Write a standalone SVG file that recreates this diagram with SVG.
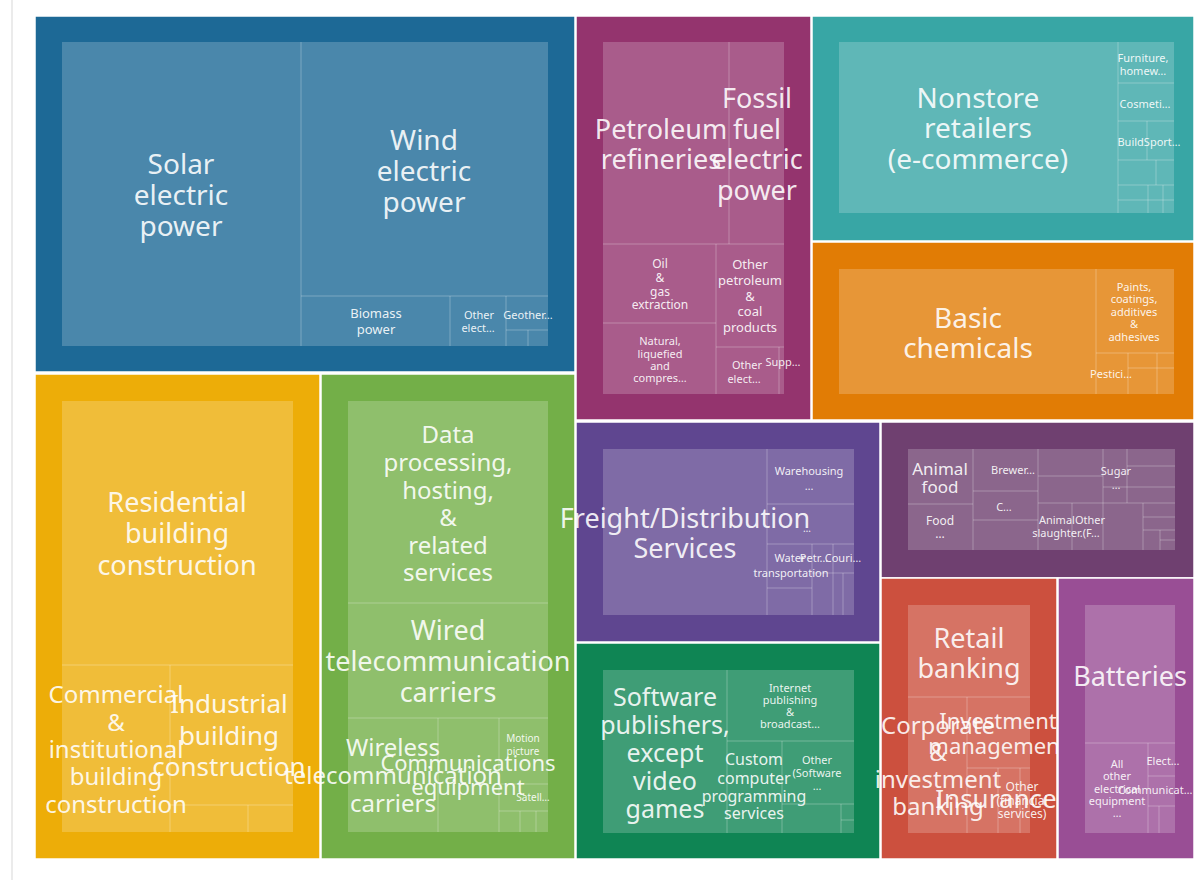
<svg xmlns="http://www.w3.org/2000/svg" width="1194" height="880" viewBox="0 0 1194 880">
<style>
.blk{stroke:#ffffff;stroke-width:1.5}
.in{fill:#ffffff;fill-opacity:0.2}
.ln{stroke:#ffffff;stroke-opacity:0.28;stroke-width:1;fill:none}
text{font-family:"Noto Sans","Open Sans",sans-serif;fill:#ffffff;fill-opacity:0.9;text-anchor:middle;dominant-baseline:central}
.s28{font-size:28px}.s27{font-size:27px}.s26{font-size:26px}.s25{font-size:25px}.s24{font-size:24px}.s22{font-size:22px}
.s17{font-size:17px}.s16{font-size:16px}.s13{font-size:13px}.s12{font-size:12px}.s11{font-size:11px}.s10{font-size:10px}
</style>
<rect x="0" y="0" width="1194" height="880" fill="#ffffff"/>
<line x1="12" y1="0" x2="12" y2="880" stroke="#ebebeb" stroke-width="2"/>
<g id="connectors"/>

<g id="energy">
<rect class="blk" x="35" y="16" width="540" height="356" fill="#1D6996"/>
<rect class="in" x="62" y="42" width="486" height="304"/>
<path class="ln" d="M301 42V346M301 296H548M450 296V346M506 296V346M506 330H548M528 330V346"/>
<text class="s28"><tspan x="181" y="163">Solar</tspan><tspan x="181" y="194">electric</tspan><tspan x="181" y="225">power</tspan></text>
<text class="s28"><tspan x="424" y="139">Wind</tspan><tspan x="424" y="170">electric</tspan><tspan x="424" y="201">power</tspan></text>
<text class="s13"><tspan x="376" y="313">Biomass</tspan><tspan x="376" y="329">power</tspan></text>
<text class="s11"><tspan x="479" y="314">Other</tspan><tspan x="478" y="327">elect…</tspan></text>
<text class="s11" x="528" y="314">Geother…</text>
</g>

<g id="construction">
<rect class="blk" x="35" y="374" width="285" height="485" fill="#EDAD08"/>
<rect class="in" x="62" y="401" width="231" height="431"/>
<path class="ln" d="M62 665H293M170 665V832M170 805H293M248 805V832"/>
<text class="s27"><tspan x="177" y="501">Residential</tspan><tspan x="177" y="532">building</tspan><tspan x="177" y="564">construction</tspan></text>
<text class="s24"><tspan x="116" y="693">Commercial</tspan><tspan x="116" y="721">&amp;</tspan><tspan x="116" y="748">institutional</tspan><tspan x="116" y="775">building</tspan><tspan x="116" y="803">construction</tspan></text>
<text class="s26"><tspan x="229" y="703">Industrial</tspan><tspan x="229" y="735">building</tspan><tspan x="229" y="766">construction</tspan></text>
</g>

<g id="telecom">
<rect class="blk" x="321" y="374" width="254" height="485" fill="#73AF48"/>
<rect class="in" x="348" y="401" width="200" height="431"/>
<path class="ln" d="M348 603H548M348 718H548M438 718V832M499 718V832M499 784H548M499 811H548M520 811V832M536 811V832"/>
<text class="s24"><tspan x="448" y="433">Data</tspan><tspan x="448" y="461">processing,</tspan><tspan x="448" y="489">hosting,</tspan><tspan x="448" y="516">&amp;</tspan><tspan x="448" y="544">related</tspan><tspan x="448" y="571">services</tspan></text>
<text class="s27"><tspan x="448" y="629">Wired</tspan><tspan x="448" y="660">telecommunication</tspan><tspan x="448" y="691">carriers</tspan></text>
<text class="s24"><tspan x="393" y="746">Wireless</tspan><tspan x="393" y="774">telecommunication</tspan><tspan x="393" y="802">carriers</tspan></text>
<text class="s22"><tspan x="468" y="762">Communications</tspan><tspan x="468" y="786">equipment</tspan></text>
<text class="s10"><tspan x="523" y="738">Motion</tspan><tspan x="523" y="751">picture</tspan></text>
<text class="s10" x="533" y="797">Satell…</text>
</g>

<g id="fossil">
<rect class="blk" x="576" y="16" width="235" height="404" fill="#94346E"/>
<rect class="in" x="603" y="42" width="181" height="352"/>
<path class="ln" d="M729 42V244M603 244H784M716 244V394M603 323H716M716 347H784M779 347V394"/>
<text class="s27"><tspan x="661" y="128">Petroleum</tspan><tspan x="661" y="158">refineries</tspan></text>
<text class="s27"><tspan x="757" y="97">Fossil</tspan><tspan x="757" y="128">fuel</tspan><tspan x="757" y="158">electric</tspan><tspan x="757" y="189">power</tspan></text>
<text class="s12"><tspan x="660" y="263">Oil</tspan><tspan x="660" y="277">&amp;</tspan><tspan x="660" y="291">gas</tspan><tspan x="660" y="304">extraction</tspan></text>
<text class="s13"><tspan x="750" y="264">Other</tspan><tspan x="750" y="280">petroleum</tspan><tspan x="750" y="296">&amp;</tspan><tspan x="750" y="311">coal</tspan><tspan x="750" y="327">products</tspan></text>
<text class="s11"><tspan x="660" y="340">Natural,</tspan><tspan x="660" y="353">liquefied</tspan><tspan x="660" y="365">and</tspan><tspan x="660" y="377">compres…</tspan></text>
<text class="s11"><tspan x="747" y="364">Other</tspan><tspan x="744" y="378">elect…</tspan></text>
<text class="s11" x="783" y="361">Supp…</text>
</g>

<g id="nonstore">
<rect class="blk" x="812" y="16" width="382" height="225" fill="#38A6A5"/>
<rect class="in" x="839" y="42" width="335" height="171"/>
<path class="ln" d="M1118 42V213M1118 83H1174M1118 121H1174M1118 160H1174M1147 121V160M1118 185H1174M1156 160V185M1118 200H1174M1148 185V213M1163 185V213"/>
<text class="s28"><tspan x="978" y="97">Nonstore</tspan><tspan x="978" y="127">retailers</tspan><tspan x="978" y="158">(e-commerce)</tspan></text>
<text class="s11"><tspan x="1143" y="57">Furniture,</tspan><tspan x="1143" y="70">homew…</tspan></text>
<text class="s11" x="1145" y="103">Cosmeti…</text>
<text class="s11" x="1149" y="141">BuildSport…</text>
</g>

<g id="chemicals">
<rect class="blk" x="812" y="242" width="382" height="178" fill="#E17C05"/>
<rect class="in" x="839" y="269" width="335" height="125"/>
<path class="ln" d="M1096 269V394M1096 353H1174M1128 353V394M1157 353V394M1128 368H1174"/>
<text class="s28"><tspan x="968" y="317">Basic</tspan><tspan x="968" y="347">chemicals</tspan></text>
<text class="s11"><tspan x="1134" y="286">Paints,</tspan><tspan x="1134" y="298">coatings,</tspan><tspan x="1134" y="311">additives</tspan><tspan x="1134" y="323">&amp;</tspan><tspan x="1134" y="336">adhesives</tspan></text>
<text class="s11" x="1111" y="373">Pestici…</text>
</g>

<g id="freight">
<rect class="blk" x="576" y="422" width="304" height="220" fill="#5F4690"/>
<rect class="in" x="603" y="449" width="251" height="166"/>
<path class="ln" d="M767 449V615M767 504H854M767 544H854M812 544V615M812 573H854M767 588H812M833 544V615M843 573V615"/>
<text class="s27"><tspan x="685" y="517">Freight/Distribution</tspan><tspan x="685" y="547">Services</tspan></text>
<text class="s11"><tspan x="809" y="470">Warehousing</tspan><tspan x="809" y="485">…</tspan></text>
<text class="s10" x="807" y="528">…</text>
<text class="s11"><tspan x="790" y="557">Water</tspan><tspan x="791" y="572">transportation</tspan></text>
<text class="s11" x="814" y="557">Petr…</text>
<text class="s11" x="843" y="557">Couri…</text>
</g>

<g id="food">
<rect class="blk" x="881" y="422" width="313" height="156" fill="#6F4070"/>
<rect class="in" x="908" y="449" width="267" height="101"/>
<path class="ln" d="M973 449V550M908 504H973M1038 449V550M973 491H1038M973 520H1038M1038 476H1103M1103 449V503M1127 449V503M1127 466H1175M1103 487H1175M1038 503H1175M1072 503V550M1103 503V550M1143 503V550M1143 517H1175M1143 530H1175M1160 530V550M1160 540H1175"/>
<text class="s17"><tspan x="940" y="468">Animal</tspan><tspan x="940" y="486">food</tspan></text>
<text class="s12"><tspan x="940" y="520">Food</tspan><tspan x="940" y="533">…</tspan></text>
<text class="s11" x="1013" y="469">Brewer…</text>
<text class="s11" x="1004" y="506">C…</text>
<text class="s11"><tspan x="1072" y="519">AnimalOther</tspan><tspan x="1066" y="532">slaughter.(F…</tspan></text>
<text class="s11"><tspan x="1116" y="470">Sugar</tspan><tspan x="1116" y="484">…</tspan></text>
</g>

<g id="software">
<rect class="blk" x="576" y="643" width="304" height="216" fill="#0F8554"/>
<rect class="in" x="603" y="670" width="251" height="163"/>
<path class="ln" d="M727 670V833M727 741H854M782 741V833M782 804H854M841 804V833M841 820H854"/>
<text class="s25"><tspan x="665" y="696">Software</tspan><tspan x="665" y="724">publishers,</tspan><tspan x="665" y="752">except</tspan><tspan x="665" y="780">video</tspan><tspan x="665" y="808">games</tspan></text>
<text class="s11"><tspan x="790" y="687">Internet</tspan><tspan x="790" y="699">publishing</tspan><tspan x="790" y="711">&amp;</tspan><tspan x="790" y="723">broadcast…</tspan></text>
<text class="s16"><tspan x="754" y="759">Custom</tspan><tspan x="754" y="778">computer</tspan><tspan x="754" y="796">programming</tspan><tspan x="754" y="813">services</tspan></text>
<text class="s11"><tspan x="817" y="759">Other</tspan><tspan x="817" y="772">(Software</tspan><tspan x="817" y="785">…</tspan></text>
</g>

<g id="banking">
<rect class="blk" x="881" y="578" width="176" height="281" fill="#CC503E"/>
<rect class="in" x="908" y="605" width="122" height="228"/>
<path class="ln" d="M908 697H1030M967 697V833M967 768H1030M998 768V833M1020 768V833"/>
<text class="s27"><tspan x="969" y="637">Retail</tspan><tspan x="969" y="667">banking</tspan></text>
<text class="s24"><tspan x="938" y="724">Corporate</tspan><tspan x="938" y="751">&amp;</tspan><tspan x="938" y="778">investment</tspan><tspan x="938" y="805">banking</tspan></text>
<text class="s22"><tspan x="998" y="720">Investment</tspan><tspan x="998" y="745">management</tspan></text>
<text class="s26" x="996" y="798">Insurance</text>
<text class="s12"><tspan x="1022" y="786">Other</tspan><tspan x="1022" y="800">(financial</tspan><tspan x="1022" y="813">services)</tspan></text>
</g>

<g id="batteries">
<rect class="blk" x="1058" y="578" width="136" height="281" fill="#994E95"/>
<rect class="in" x="1085" y="605" width="90" height="228"/>
<path class="ln" d="M1085 743H1175M1148 743V833M1148 776H1175M1148 806H1175M1159 806V833"/>
<text class="s27" x="1130" y="675">Batteries</text>
<text class="s11"><tspan x="1117" y="763">All</tspan><tspan x="1117" y="775">other</tspan><tspan x="1117" y="788">electrical</tspan><tspan x="1117" y="800">equipment</tspan><tspan x="1117" y="812">…</tspan></text>
<text class="s11" x="1163" y="760">Elect…</text>
<text class="s11" x="1155" y="789">Communicat…</text>
</g>
</svg>
